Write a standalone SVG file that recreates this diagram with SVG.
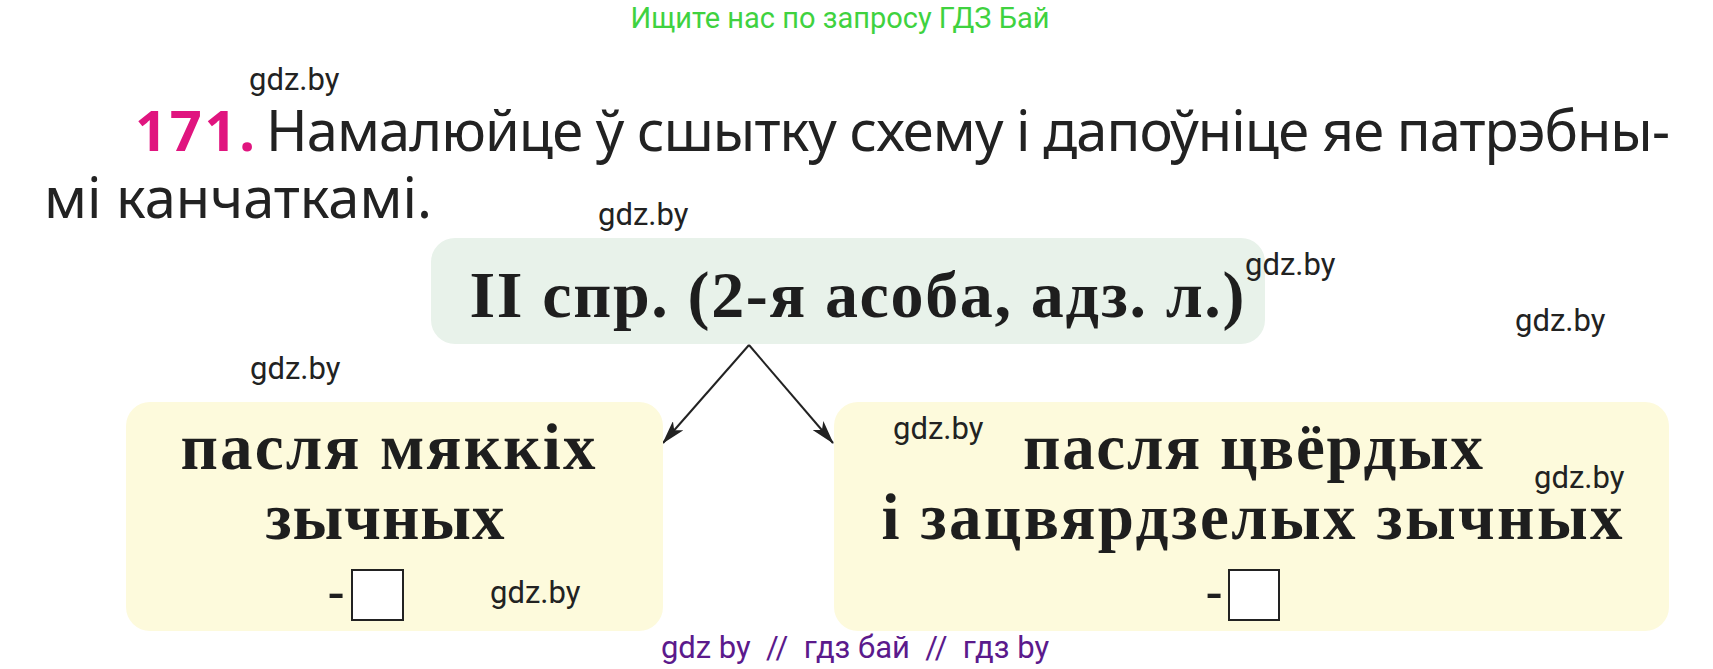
<svg xmlns="http://www.w3.org/2000/svg" width="1713" height="669" viewBox="0 0 1713 669">
<style>
.wm{font-family:Roboto,"Liberation Sans",sans-serif;font-size:31px;fill:#222}
.hd{font-family:"Noto Sans","Open Sans",sans-serif;font-size:56px;fill:#222}
.num{fill:#e0157f;font-weight:bold}
.sr{font-family:"Liberation Serif","DejaVu Serif",serif;font-weight:bold;fill:#1e1e1e;text-anchor:middle}
.box{fill:#fdfadc}
.sq{fill:#ffffff;stroke:#222;stroke-width:2}
</style>
<defs>
<marker id="ah" viewBox="0 0 24 14" refX="23" refY="7" markerWidth="24" markerHeight="14" markerUnits="userSpaceOnUse" orient="auto">
<path d="M0,0 L24,7 L0,14 L6,7 Z" fill="#222"/>
</marker>
</defs>
<rect width="1713" height="669" fill="#fff"/>
<text x="840" y="28" font-family="Roboto,'Liberation Sans',sans-serif" font-size="29" fill="#3fd23f" text-anchor="middle">Ищите нас по запросу ГДЗ Бай</text>
<text class="hd num" x="135" y="151" textLength="120">171.</text>
<text class="hd" x="266" y="151" textLength="1404">Намалюйце ў сшытку схему і дапоўніце яе патрэбны-</text>
<text class="hd" x="44" y="218">мі канчаткамі.</text>
<g id="connectors" stroke="#222" stroke-width="2" fill="none">
<line x1="749" y1="345" x2="663" y2="443" marker-end="url(#ah)"/>
<line x1="749" y1="345" x2="833" y2="443" marker-end="url(#ah)"/>
</g>
<g id="node-top">
<rect x="431" y="238" width="834" height="106" rx="24" fill="#e8f2ea"/>
<text class="sr" x="857" y="317" font-size="66" textLength="775">II спр. (2-я асоба, адз. л.)</text>
</g>
<g id="node-left">
<rect class="box" x="126" y="402" width="537" height="229" rx="24"/>
<text class="sr" x="388" y="469" font-size="65" textLength="415">пасля мяккіх</text>
<text class="sr" x="385" y="539" font-size="65" textLength="239">зычных</text>
<text class="sr" x="336" y="608" font-size="50">-</text>
<rect class="sq" x="352" y="570" width="51" height="50"/>
</g>
<g id="node-right">
<rect class="box" x="834" y="402" width="835" height="229" rx="24"/>
<text class="sr" x="1253" y="469" font-size="65" textLength="460">пасля цвёрдых</text>
<text class="sr" x="1252" y="539" font-size="65" textLength="741">і зацвярдзелых зычных</text>
<text class="sr" x="1214" y="608" font-size="50">-</text>
<rect class="sq" x="1229" y="570" width="50" height="50"/>
</g>
<g id="watermarks">
<text class="wm" x="249" y="90">gdz.by</text>
<text class="wm" x="598" y="225">gdz.by</text>
<text class="wm" x="1245" y="275">gdz.by</text>
<text class="wm" x="1515" y="331">gdz.by</text>
<text class="wm" x="250" y="379">gdz.by</text>
<text class="wm" x="893" y="439">gdz.by</text>
<text class="wm" x="1534" y="488">gdz.by</text>
<text class="wm" x="490" y="603">gdz.by</text>
</g>
<text x="855" y="658" font-family="Roboto,'Liberation Sans',sans-serif" font-size="31" fill="#5b1a8c" text-anchor="middle" xml:space="preserve">gdz by  //  гдз бай  //  гдз by</text>
</svg>
